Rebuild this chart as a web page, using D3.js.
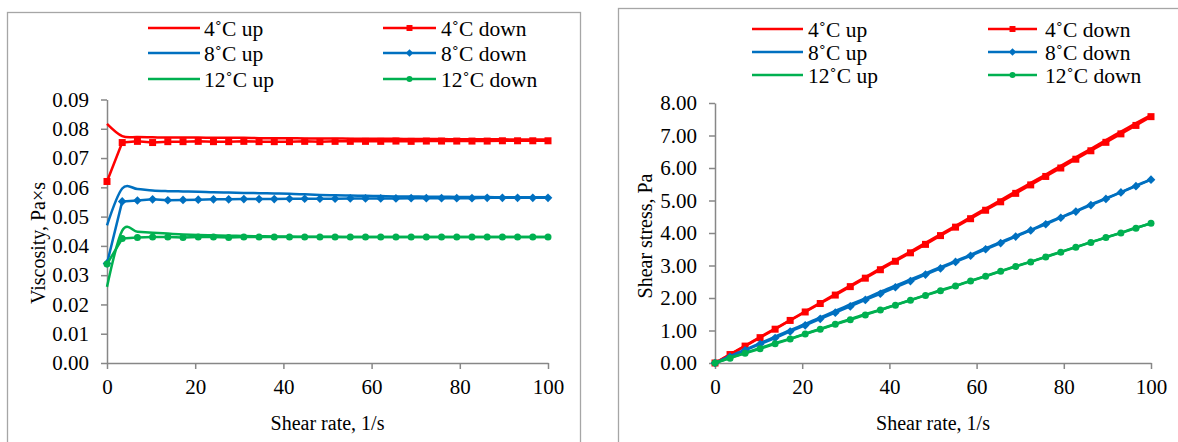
<!DOCTYPE html>
<html>
<head>
<meta charset="utf-8">
<script src="https://cdn.jsdelivr.net/npm/d3@7/dist/d3.min.js"></script>
<style>
  html, body { margin: 0; padding: 0; background: #fff; }
  svg { display: block; }
  svg text { font-family: "Liberation Serif", "Times New Roman", serif !important; fill: #000; }
</style>
</head>
<body>
<svg id="chart" width="1178" height="442"></svg>
<script>
// ---------- DATA ----------
const shearRate = [0, 3.45, 6.90, 10.34, 13.79, 17.24, 20.69, 24.14, 27.59, 31.03, 34.48, 37.93, 41.38, 44.83, 48.28, 51.72, 55.17, 58.62, 62.07, 65.52, 68.97, 72.41, 75.86, 79.31, 82.76, 86.21, 89.66, 93.10, 96.55, 100];

const visc4Up = [0.0817,0.0775,0.0772,0.0771,0.0770,0.0770,0.0770,0.0769,0.0769,0.0769,0.0768,0.0768,0.0768,0.0767,0.0767,0.0767,0.0766,0.0766,0.0766,0.0766,0.0765,0.0765,0.0765,0.0764,0.0764,0.0764,0.0764,0.0763,0.0763,0.0763];
const visc4Down = [0.0620,0.0753,0.0757,0.0753,0.0756,0.0756,0.0757,0.0756,0.0756,0.0757,0.0756,0.0756,0.0756,0.0757,0.0756,0.0757,0.0757,0.0757,0.0757,0.0758,0.0757,0.0758,0.0758,0.0758,0.0758,0.0758,0.0759,0.0759,0.0759,0.0759];
const visc8Up = [0.0470,0.0596,0.0594,0.0589,0.0587,0.0586,0.0585,0.0583,0.0582,0.0581,0.0580,0.0579,0.0578,0.0576,0.0574,0.0573,0.0572,0.0571,0.0570,0.0569,0.0569,0.0568,0.0568,0.0567,0.0567,0.0567,0.0566,0.0566,0.0566,0.0566];
const visc8Down = [0.0340,0.0552,0.0555,0.0559,0.0556,0.0557,0.0558,0.0559,0.0559,0.0560,0.0560,0.0560,0.0561,0.0561,0.0561,0.0561,0.0562,0.0562,0.0562,0.0562,0.0563,0.0563,0.0563,0.0563,0.0563,0.0564,0.0564,0.0564,0.0564,0.0564];
const visc12Up = [0.0260,0.0452,0.0448,0.0445,0.0442,0.0439,0.0437,0.0436,0.0435,0.0434,0.0433,0.0432,0.0432,0.0431,0.0431,0.0431,0.0430,0.0430,0.0430,0.0430,0.0430,0.0430,0.0430,0.0430,0.0430,0.0430,0.0430,0.0430,0.0430,0.0430];
const visc12Down = [0.0338,0.0425,0.0429,0.0430,0.0430,0.0429,0.0430,0.0430,0.0429,0.0430,0.0430,0.0430,0.0430,0.0430,0.0430,0.0430,0.0430,0.0430,0.0430,0.0430,0.0430,0.0430,0.0430,0.0430,0.0430,0.0430,0.0430,0.0430,0.0430,0.0430];

const stress4Up = [0,0.27,0.53,0.80,1.06,1.32,1.59,1.85,2.12,2.38,2.64,2.91,3.17,3.43,3.70,3.96,4.22,4.49,4.75,5.01,5.28,5.54,5.80,6.07,6.33,6.59,6.86,7.12,7.38,7.63];
const stress4Down = [0,0.26,0.52,0.78,1.04,1.31,1.57,1.83,2.09,2.35,2.61,2.87,3.13,3.39,3.65,3.92,4.18,4.44,4.70,4.96,5.22,5.48,5.74,6.00,6.27,6.53,6.79,7.05,7.31,7.58];
const stress8Up = [0,0.21,0.41,0.61,0.81,1.01,1.20,1.40,1.60,1.80,1.99,2.19,2.38,2.57,2.76,2.95,3.14,3.33,3.53,3.72,3.91,4.10,4.30,4.49,4.68,4.88,5.07,5.26,5.46,5.65];
const stress8Down = [0,0.19,0.39,0.58,0.77,0.97,1.16,1.36,1.55,1.74,1.94,2.13,2.33,2.52,2.72,2.91,3.11,3.30,3.50,3.69,3.89,4.08,4.27,4.47,4.66,4.86,5.05,5.25,5.44,5.64];
const stress12Up = [0,0.16,0.31,0.46,0.61,0.75,0.90,1.05,1.20,1.35,1.50,1.64,1.79,1.94,2.09,2.24,2.38,2.53,2.68,2.83,2.98,3.12,3.27,3.42,3.57,3.72,3.86,4.01,4.16,4.30];
const stress12Down = [0,0.15,0.30,0.44,0.59,0.74,0.89,1.04,1.19,1.33,1.48,1.63,1.78,1.93,2.08,2.22,2.37,2.52,2.67,2.82,2.97,3.11,3.26,3.41,3.56,3.71,3.86,4.00,4.15,4.30];

const seriesNames = ["4˚C up", "4˚C down", "8˚C up", "8˚C down", "12˚C up", "12˚C down"];
const xTicks = [0, 20, 40, 60, 80, 100];
const viscTicks = [0, 0.01, 0.02, 0.03, 0.04, 0.05, 0.06, 0.07, 0.08, 0.09];
const stressTicks = [0, 1, 2, 3, 4, 5, 6, 7, 8];
const xTitle = "Shear rate, 1/s";
const viscTitle = "Viscosity, Pa×s";
const stressTitle = "Shear stress, Pa";

// ---------- STYLE ----------
const RED = "#FF0000", BLUE = "#0070C0", GREEN = "#00B050";
const AXIS = "#878787", FRAME = "#a6a6a6";
const FS = 20, TFS = 21, LFS = 21.5;
const SERIF = '"Liberation Serif", "Times New Roman", serif';

const svg = d3.select("#chart");

// frames
svg.append("rect").attr("x", 7.5).attr("y", 12.5).attr("width", 573).attr("height", 440)
  .attr("fill", "none").attr("stroke", FRAME).attr("stroke-width", 1.3);
svg.append("rect").attr("x", 618.5).attr("y", 8.5).attr("width", 600).attr("height", 450)
  .attr("fill", "none").attr("stroke", FRAME).attr("stroke-width", 1.3);

function drawMarker(g, type, color, x, y, s) {
  if (type === "square") {
    g.append("rect").attr("x", x - s/2).attr("y", y - s/2).attr("width", s).attr("height", s).attr("fill", color);
  } else if (type === "diamond") {
    const h = s * 0.62;
    g.append("path").attr("d", `M${x},${y-h}L${x+h},${y}L${x},${y+h}L${x-h},${y}Z`).attr("fill", color);
  } else if (type === "circle") {
    g.append("circle").attr("cx", x).attr("cy", y).attr("r", s/2).attr("fill", color);
  }
}

function panel(cfg) {
  const g = svg.append("g");
  const x = d3.scaleLinear().domain([0, 100]).range([cfg.x0, cfg.x1]);
  const y = d3.scaleLinear().domain(cfg.yDomain).range([cfg.y0, cfg.y1]);

  // axes
  const ax = g.append("g").attr("transform", `translate(0,${cfg.y0})`)
    .call(d3.axisBottom(x).tickValues(xTicks).tickSize(6).tickSizeOuter(0).tickPadding(10).tickFormat(d3.format("d")));
  const ay = g.append("g").attr("transform", `translate(${cfg.x0},0)`)
    .call(d3.axisLeft(y).tickValues(cfg.yTicks).tickSize(6).tickSizeOuter(0).tickPadding(12).tickFormat(d3.format(".2f")));
  [ax, ay].forEach(a => {
    a.attr("font-family", SERIF).attr("font-size", TFS);
    a.selectAll("path, line").attr("stroke", AXIS).attr("stroke-width", 1.5);
    a.selectAll("text").style("font-family", SERIF).style("font-size", TFS + "px").attr("fill", "#000");
  });

  // titles
  g.append("text").attr("x", (cfg.x0 + cfg.x1) / 2).attr("y", 430).attr("text-anchor", "middle")
    .style("font-size", FS + "px").text(xTitle);
  g.append("text").attr("transform", `translate(${cfg.yTitleX},${cfg.yTitleY}) rotate(-90)`)
    .attr("text-anchor", "middle").style("font-size", FS + "px").text(cfg.yTitle);

  // series
  cfg.series.forEach(s => {
    const pts = shearRate.map((r, i) => [x(r), y(s.values[i])]);
    const line = d3.line().curve(s.smooth ? d3.curveCatmullRom.alpha(0) : d3.curveLinear);
    g.append("path").attr("d", line(pts)).attr("fill", "none").attr("stroke", s.color)
      .attr("stroke-width", 2.5).attr("stroke-linejoin", "round");
    if (s.marker) {
      const mg = g.append("g");
      pts.forEach(p => drawMarker(mg, s.marker, s.color, p[0], p[1], s.size));
    }
  });

  // legend
  const lg = g.append("g");
  cfg.series.forEach((s, i) => {
    const col = i % 2, row = Math.floor(i / 2);
    const lx0 = cfg.legend.cols[col][0], lx1 = cfg.legend.cols[col][1], tx = cfg.legend.cols[col][2];
    const ly = cfg.legend.rows[row];
    lg.append("line").attr("x1", lx0).attr("x2", lx1).attr("y1", ly).attr("y2", ly)
      .attr("stroke", s.color).attr("stroke-width", 2.5);
    if (s.marker) drawMarker(lg, s.marker, s.color, (lx0 + lx1) / 2, ly, s.size * 0.85);
    lg.append("text").attr("x", tx).attr("y", ly).attr("dy", "0.35em").style("font-size", LFS + "px").text(s.name);
  });
}

panel({
  x0: 107, x1: 548, y0: 363, y1: 99.5, yDomain: [0, 0.09], yTicks: viscTicks,
  yTitle: viscTitle, yTitleX: 45, yTitleY: 243,
  legend: { cols: [[148, 200, 204], [383, 436, 441]], rows: [28, 53, 79] },
  series: [
    { name: seriesNames[0], values: visc4Up, color: RED, smooth: true },
    { name: seriesNames[1], values: visc4Down, color: RED, marker: "square", size: 7 },
    { name: seriesNames[2], values: visc8Up, color: BLUE, smooth: true },
    { name: seriesNames[3], values: visc8Down, color: BLUE, marker: "diamond", size: 7 },
    { name: seriesNames[4], values: visc12Up, color: GREEN, smooth: true },
    { name: seriesNames[5], values: visc12Down, color: GREEN, marker: "circle", size: 7 }
  ]
});

panel({
  x0: 715, x1: 1151, y0: 363, y1: 103, yDomain: [0, 8], yTicks: stressTicks,
  yTitle: stressTitle, yTitleX: 652, yTitleY: 236,
  legend: { cols: [[752, 803, 808], [988, 1037, 1045]], rows: [29, 52, 75] },
  series: [
    { name: seriesNames[0], values: stress4Up, color: RED, smooth: true },
    { name: seriesNames[1], values: stress4Down, color: RED, marker: "square", size: 7 },
    { name: seriesNames[2], values: stress8Up, color: BLUE, smooth: true },
    { name: seriesNames[3], values: stress8Down, color: BLUE, marker: "diamond", size: 7 },
    { name: seriesNames[4], values: stress12Up, color: GREEN, smooth: true },
    { name: seriesNames[5], values: stress12Down, color: GREEN, marker: "circle", size: 7 }
  ]
});
</script>
</body>
</html>
